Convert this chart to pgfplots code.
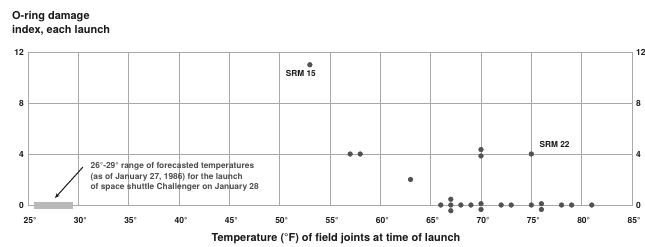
\documentclass[border=0pt]{standalone}
\usepackage{fontspec}
\setmainfont{TeX Gyre Heros}
\usepackage{pgfplots}
\pgfplotsset{compat=1.18}
\usetikzlibrary{arrows.meta}
\definecolor{gridc}{gray}{0.66}
\definecolor{dotc}{gray}{0.32}
\definecolor{txt}{gray}{0.1}
\definecolor{anno}{gray}{0.3}
\begin{document}
\begin{tikzpicture}[x=1bp,y=1bp]
\path[use as bounding box] (0,0) rectangle (645,246);
\node[anchor=base west, inner sep=0, font=\bfseries\fontsize{11}{14}\selectfont, text=txt] at (12,226.5) {O-ring damage};
\node[anchor=base west, inner sep=0, font=\bfseries\fontsize{11}{14}\selectfont, text=txt] at (12,212.5) {index, each launch};
\begin{axis}[
  at={(28bp,41bp)}, anchor=south west,
  scale only axis, width=604bp, height=153bp,
  xmin=25, xmax=85, ymin=0, ymax=12,
  clip=false,
  axis line style={gridc, line width=1bp},
  grid=major,
  major grid style={gridc, line width=1bp},
  tick style={draw=none},
  xtick={25,30,...,85},
  xticklabels={25°,30°,35°,40°,45°,50°,55°,60°,65°,70°,75°,80°,85°},
  ytick={0,4,8,12},
  yticklabels={0,4,8,12},
  ticklabel style={font=\bfseries\fontsize{8.5}{10}\selectfont, text=txt, inner sep=0},
  xticklabel style={anchor=base, yshift=-18bp, xshift=2bp},
  yticklabel style={anchor=east, xshift=-4bp},
  xlabel={Temperature (°F) of field joints at time of launch},
  xlabel style={font=\bfseries\fontsize{11}{13}\selectfont, text=txt, inner sep=0, anchor=base, at={(axis description cs:0.5,0)}, yshift=-36bp, xshift=6bp},
]
\addplot[fill=gray!55, draw=none] coordinates {(25.6,0.2) (29.5,0.2) (29.5,-0.35) (25.6,-0.35)} -- cycle;
\addplot[only marks, mark=*, mark size=2.4bp, mark options={fill=dotc, draw=dotc}] coordinates {
(53,11) (57,4) (58,4) (63,2) (70,4.35) (70,3.85) (75,4)
(66,0) (67,0.45) (67,0) (67,-0.45) (68,0) (69,0) (70,0.1) (70,-0.35)
(72,0) (73,0) (75,0) (76,0.1) (76,-0.35) (78,0) (79,0) (81,0)
};
\draw[-{Stealth[length=5bp,width=4bp]}, line width=1bp, draw=txt] (axis cs:30.46,2.98) -- (axis cs:27.68,0.55);
\node[anchor=north west, inner sep=0, align=left, font=\bfseries\fontsize{8.4}{10.5}\selectfont, text=anno] at (axis cs:31.2,3.35)
 {26°-29° range of forecasted temperatures\\(as of January 27, 1986) for the launch\\of space shuttle Challenger on January 28};
\node[anchor=east, inner sep=0, font=\bfseries\fontsize{8.3}{10}\selectfont, text=txt] at (axis cs:53.6,10.35) {SRM 15};
\node[anchor=west, inner sep=0, font=\bfseries\fontsize{8.3}{10}\selectfont, text=txt] at (axis cs:75.8,4.78) {SRM 22};
\pgfplotsinvokeforeach{0,4,8,12}{
  \node[anchor=west, inner sep=0, xshift=4bp, font=\bfseries\fontsize{8.5}{10}\selectfont, text=txt] at (axis cs:85,#1) {#1};
}
\end{axis}
\end{tikzpicture}
\end{document}
